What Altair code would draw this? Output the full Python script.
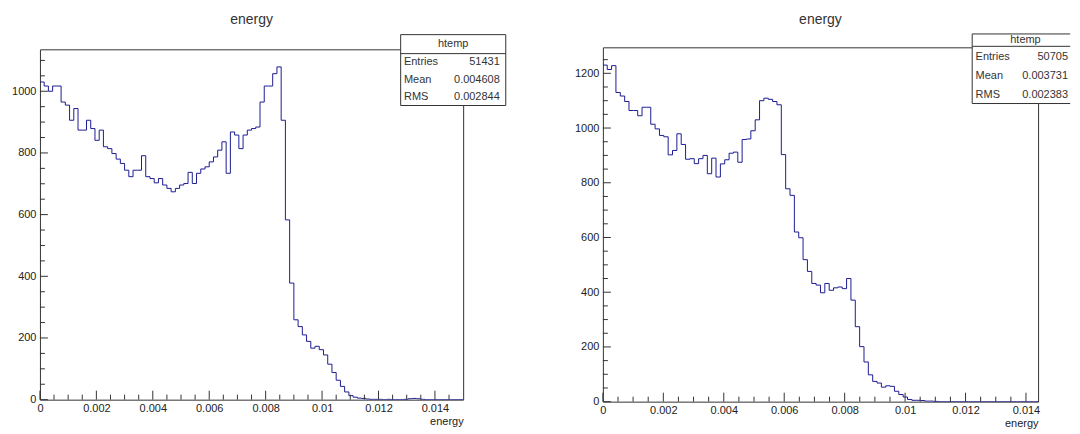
import altair as alt
import pandas as pd

# ---------------- data ----------------
n_bins = 100
left_xmax = 0.015
right_xmax = 0.0144
left_ymax = 1136
right_ymax = 1295

left_counts = [
    1030, 1017, 1000, 1017, 1017, 965, 955, 906, 944, 874,
    874, 906, 879, 841, 874, 820, 814, 798, 780, 766,
    744, 723, 744, 744, 791, 723, 717, 703, 717, 696,
    685, 674, 685, 696, 701, 737, 701, 734, 748, 755,
    771, 787, 809, 836, 734, 868, 858, 814, 858, 874,
    879, 884, 965, 1017, 1017, 1057, 1079, 906, 583, 378,
    259, 237, 210, 189, 167, 173, 162, 145, 115, 88,
    63, 43, 25, 13, 8, 5, 4, 2, 1, 1,
    1, 0, 1, 0, 0, 0, 1, 3, 4, 3,
    1, 0, 0, 0, 0, 0, 0, 0, 0, 0,
]

right_counts = [
    1230, 1214, 1228, 1130, 1117, 1097, 1064, 1064, 1045, 1076,
    1076, 1014, 997, 973, 968, 902, 918, 979, 940, 886,
    888, 870, 888, 900, 833, 890, 821, 869, 884, 908,
    912, 875, 958, 960, 990, 1030, 1100, 1109, 1105, 1097,
    1085, 903, 778, 754, 620, 599, 519, 476, 432, 426,
    398, 432, 407, 416, 419, 413, 450, 371, 274, 201,
    145, 98, 74, 68, 53, 58, 56, 38, 26, 17,
    8, 5, 5, 4, 2, 2, 1, 0, 0, 0,
    0, 0, 0, 0, 0, 0, 0, 0, 0, 0,
    0, 0, 0, 0, 0, 0, 0, 0, 0, 0,
]

x_major_ticks = [0, 0.002, 0.004, 0.006, 0.008, 0.01, 0.012, 0.014]
left_y_major = [0, 200, 400, 600, 800, 1000]
right_y_major = [0, 200, 400, 600, 800, 1000, 1200]
left_y_minor = [50, 100, 150, 250, 300, 350, 450, 500, 550, 650, 700, 750,
                850, 900, 950, 1050, 1100]
right_y_minor = [50, 100, 150, 250, 300, 350, 450, 500, 550, 650, 700, 750,
                 850, 900, 950, 1050, 1100, 1150, 1250]
left_x_minor = [0.0005, 0.001, 0.0015, 0.0025, 0.003, 0.0035, 0.0045, 0.005,
                0.0055, 0.0065, 0.007, 0.0075, 0.0085, 0.009, 0.0095, 0.0105,
                0.011, 0.0115, 0.0125, 0.013, 0.0135, 0.0145]
right_x_minor = [0.0005, 0.001, 0.0015, 0.0025, 0.003, 0.0035, 0.0045, 0.005,
                 0.0055, 0.0065, 0.007, 0.0075, 0.0085, 0.009, 0.0095, 0.0105,
                 0.011, 0.0115, 0.0125, 0.013, 0.0135]

plot_title = "energy"
axis_title = "energy"
box_title = "htemp"
stat_names = ["Entries", "Mean", "RMS"]
left_stats = ["51431", "0.004608", "0.002844"]
right_stats = ["50705", "0.003731", "0.002383"]

FONT = "'Liberation Sans', Arial, Helvetica, sans-serif"
LINE = "#1c1c94"
FRAME = "#333333"
TXT = "#333333"


def panel(counts, xmax, ymax, width, height, y_major, y_minor, x_minor,
          stats, box, title_y, box_closed):
    bw = xmax / n_bins
    edges = [i * bw for i in range(n_bins + 1)]
    df = pd.DataFrame({"e": edges, "c": list(counts) + [counts[-1]]})

    xs = alt.Scale(domain=[0, xmax], nice=False, zero=False)
    ys = alt.Scale(domain=[0, ymax], nice=False)
    xax = alt.Axis(
        values=x_major_ticks, format="~g", labelFlush=False,
        labelOverlap=False, labelPadding=3, title=axis_title,
        titleAnchor="end", titleAlign="right", titleBaseline="top",
        titleY=16)
    yax = alt.Axis(values=y_major, format="d", labelPadding=4, title=None,
                   labelOverlap=False)

    hist = alt.Chart(df).mark_line(
        interpolate="step-after", color=LINE, strokeWidth=1, clip=True
    ).encode(
        x=alt.X("e:Q", scale=xs, axis=xax),
        y=alt.Y("c:Q", scale=ys, axis=yax),
    )

    def xticks(vals, length):
        return alt.Chart(pd.DataFrame({"e": vals})).mark_rule(
            color=FRAME, strokeWidth=1
        ).encode(
            x=alt.X("e:Q", scale=xs, axis=xax),
            y=alt.value(height), y2=alt.value(height - length),
        )

    def yticks(vals, length):
        return alt.Chart(pd.DataFrame({"c": vals})).mark_rule(
            color=FRAME, strokeWidth=1
        ).encode(
            y=alt.Y("c:Q", scale=ys, axis=yax),
            x=alt.value(0), x2=alt.value(length),
        )

    one = pd.DataFrame({"k": [0]})
    bx0, bx1, by0, by1, hy, hcx, hty, rows, lx, vx = box
    rect = alt.Chart(one).mark_rect(fill="white", strokeWidth=0).encode(
        x=alt.value(bx0), x2=alt.value(bx1),
        y=alt.value(by0), y2=alt.value(by1))

    def hrule(yv):
        return alt.Chart(one).mark_rule(color=FRAME, strokeWidth=1).encode(
            x=alt.value(bx0), x2=alt.value(bx1), y=alt.value(yv))

    def vrule(xv):
        return alt.Chart(one).mark_rule(color=FRAME, strokeWidth=1).encode(
            x=alt.value(xv), y=alt.value(by0), y2=alt.value(by1))

    border = [hrule(by0), hrule(by1), hrule(hy), vrule(bx0)]
    if box_closed:
        border.append(vrule(bx1))

    ttl = alt.Chart(one).mark_text(
        font=FONT, fontSize=14, color=TXT, align="center",
        baseline="alphabetic"
    ).encode(x=alt.value(width / 2), y=alt.value(title_y),
             text=alt.value(plot_title))
    texts = [alt.Chart(one).mark_text(
        font=FONT, fontSize=11, color=TXT, align="center", baseline="middle"
    ).encode(x=alt.value(hcx), y=alt.value(hty),
             text=alt.value(box_title))]
    for name, val, ry in zip(stat_names, stats, rows):
        texts.append(alt.Chart(one).mark_text(
            font=FONT, fontSize=11, color=TXT, align="left", baseline="middle"
        ).encode(x=alt.value(lx), y=alt.value(ry), text=alt.value(name)))
        texts.append(alt.Chart(one).mark_text(
            font=FONT, fontSize=11, color=TXT, align="right", baseline="middle"
        ).encode(x=alt.value(vx), y=alt.value(ry), text=alt.value(val)))

    return alt.layer(
        hist,
        xticks(x_major_ticks, 9), xticks(x_minor, 5),
        yticks(y_major, 8), yticks(y_minor, 5),
        rect, *border, ttl, *texts,
    ).properties(width=width, height=height)


left = panel(left_counts, left_xmax, left_ymax, 424, 351,
             left_y_major, left_y_minor, left_x_minor, left_stats,
             (361.4, 466.7, -14.7, 56.3, 4.3, 414.0, -5.5,
              [13.0, 30.3, 47.6], 364.7, 460.7),
             -25.4, True)
right = panel(right_counts, right_xmax, right_ymax, 436, 355,
              right_y_major, right_y_minor, right_x_minor, right_stats,
              (370.0, 468.2, -13.4, 56.3, -1.0, 423.4, -7.5,
               [10.0, 29.0, 47.5], 373.4, 466.0),
              -23.4, False)

chart = alt.hconcat(
    left, right, spacing=140, bounds="flush", center=True
).properties(
    padding={"left": 3, "top": 4, "right": 0, "bottom": 0}
).configure_view(
    stroke=FRAME, strokeWidth=1
).configure_axis(
    grid=False, domain=False, ticks=False,
    labelFont=FONT, labelFontSize=11, labelColor="#222222",
    titleFont=FONT, titleFontSize=11, titleFontWeight="normal",
    titleColor="#222222",
)

chart.save("out.html", embed_options={"renderer": "svg", "actions": False})
